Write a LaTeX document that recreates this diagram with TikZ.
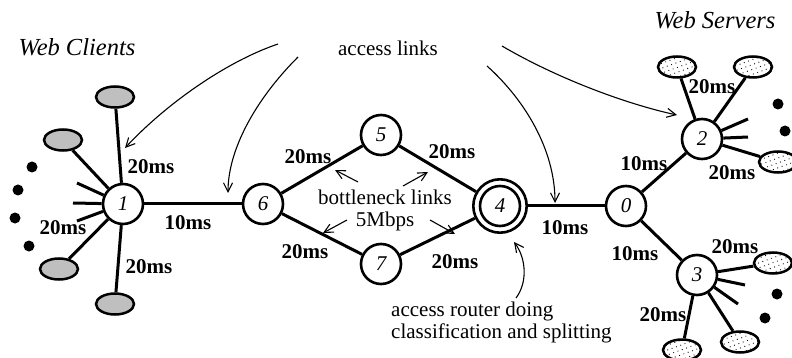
\documentclass[tikz,border=0pt]{standalone}
\usepackage{fontspec}
\setmainfont{Liberation Serif}
\usetikzlibrary{shapes.geometric,arrows.meta,patterns.meta}
\begin{document}
\begin{tikzpicture}[x=1pt,y=-1pt,
  rnode/.style={circle,draw,line width=2.6pt,minimum size=40pt,inner sep=0pt,fill=white,font=\itshape\fontsize{21}{22}\selectfont},
  client/.style={ellipse,draw,line width=2.5pt,minimum width=38pt,minimum height=21pt,inner sep=0pt,fill=black!25},
  server/.style={ellipse,draw,line width=2.5pt,minimum width=38pt,minimum height=21pt,inner sep=0pt,pattern={Dots[radius=0.6pt,distance=4.6pt,angle=20]}},
  link/.style={line width=3pt},
  lab/.style={font=\bfseries\fontsize{21}{22}\selectfont,inner sep=0pt},
  txt/.style={font=\fontsize{21}{22}\selectfont,inner sep=0pt},
  ttl/.style={font=\itshape\fontsize{24.5}{26}\selectfont,inner sep=0pt},
  ptr/.style={line width=1.1pt,-{Straight Barb[length=9pt,width=9pt]}},
  blob/.style={circle,fill=black,minimum size=11pt,inner sep=0pt}
]
\useasboundingbox (0,0) rectangle (792,358);

% routers
\node[rnode] (n1) at (123,204) {1};
\node[rnode] (n6) at (263,204) {6};
\node[rnode] (n5) at (381,135) {5};
\node[rnode] (n7) at (381,264) {7};
\node[rnode,minimum size=53.4pt] (n4) at (500,206) {4};
\draw[line width=2.6pt] (n4.center) circle[radius=20];
\node[rnode] (n0) at (626,206) {0};
\node[rnode] (n2) at (702,139) {2};
\node[rnode] (n3) at (697,275) {3};

% clients
\node[client] (c1) at (115,97) {};
\node[client] (c2) at (63,140) {};
\node[client] (c3) at (59,269) {};
\node[client] (c4) at (115,304) {};
\coordinate (s1) at (77,183);
\coordinate (s2) at (73,203);
\coordinate (s3) at (77,221);
\node[blob] (d1) at (32,167) {};
\node[blob] (d2) at (18,190) {};
\node[blob] (d3) at (15,218) {};
\node[blob] (d4) at (29,246) {};

% servers
\node[server] (w1) at (677,67) {};
\node[server] (w2) at (753,67) {};
\node[server] (w3) at (778,162) {};
\node[server] (w4) at (773,263) {};
\node[server] (w5) at (682,350) {};
\node[server] (w6) at (740,342) {};
\coordinate (t1) at (748,119);
\coordinate (t2) at (748,137);
\coordinate (t3) at (745,285);
\coordinate (t4) at (738,304);
\node[blob] (e1) at (778,104) {};
\node[blob] (e2) at (785,131) {};
\node[blob] (e3) at (777,294) {};
\node[blob] (e4) at (765,318) {};

% links
\draw[link] (n1) -- (n6);
\draw[link] (n6) -- (n5);
\draw[link] (n6) -- (n7);
\draw[link] (n5) -- (n4);
\draw[link] (n7) -- (n4);
\draw[link] (n4) -- (n0);
\draw[link] (n0) -- (n2);
\draw[link] (n0) -- (n3);
\foreach \c in {c1,c2,c3,c4,s1,s2,s3} \draw[link] (n1) -- (\c);
\foreach \c in {w1,w2,w3,t1,t2} \draw[link] (n2) -- (\c);
\foreach \c in {w4,w5,w6,t3,t4} \draw[link] (n3) -- (\c);

% labels
\node[lab] (l1) at (151,167) {20ms};
\node[lab] (l2) at (63,228) {20ms};
\node[lab] (l3) at (149,267) {20ms};
\node[lab] (l4) at (188,223) {10ms};
\node[lab] (l5) at (308,157) {20ms};
\node[lab] (l6) at (452,152) {20ms};
\node[lab] (l7) at (305,252) {20ms};
\node[lab] (l8) at (455,262) {20ms};
\node[lab] (l9) at (565,228) {10ms};
\node[lab] (l10) at (644,164) {10ms};
\node[lab] (l11) at (635,254) {10ms};
\node[lab] (l12) at (712,87) {20ms};
\node[lab] (l13) at (732,173) {20ms};
\node[lab] (l14) at (735,247) {20ms};
\node[lab] (l15) at (663,315) {20ms};

\node[ttl] (wc) at (77,47) {Web Clients};
\node[ttl] (ws) at (715,20) {Web Servers};
\node[txt] (al) at (388,48) {access links};
\node[txt,align=center] (bn) at (385,210) {bottleneck links\\5Mbps};
\node[txt,align=left,anchor=north west] (ar) at (391,302) {access router doing\\classification and splitting};

% access link pointers
\coordinate (a1s) at (278,44);  \coordinate (a1e) at (125,148);
\coordinate (a2s) at (298,57);  \coordinate (a2e) at (228,193);
\coordinate (a3s) at (502,46);  \coordinate (a3e) at (677,115);
\coordinate (a4s) at (487,66);  \coordinate (a4e) at (555,203);
\coordinate (a5s) at (516,298); \coordinate (a5e) at (514,242);
\draw[ptr] (a1s) .. controls (225,62) and (165,105) .. (a1e);
\draw[ptr] (a2s) .. controls (255,100) and (228,150) .. (a2e);
\draw[ptr] (a3s) .. controls (560,80) and (630,105) .. (a3e);
\draw[ptr] (a4s) .. controls (525,100) and (555,150) .. (a4e);
\draw[ptr] (a5s) .. controls (528,282) and (526,258) .. (a5e);

% bottleneck pointers
\coordinate (b1s) at (358,182); \coordinate (b1e) at (335,170);
\coordinate (b2s) at (403,186); \coordinate (b2e) at (428,172);
\coordinate (b3s) at (347,220); \coordinate (b3e) at (323,233);
\coordinate (b4s) at (430,220); \coordinate (b4e) at (455,234);
\draw[ptr] (b1s) -- (b1e);
\draw[ptr] (b2s) -- (b2e);
\draw[ptr] (b3s) -- (b3e);
\draw[ptr] (b4s) -- (b4e);
\end{tikzpicture}
\end{document}
